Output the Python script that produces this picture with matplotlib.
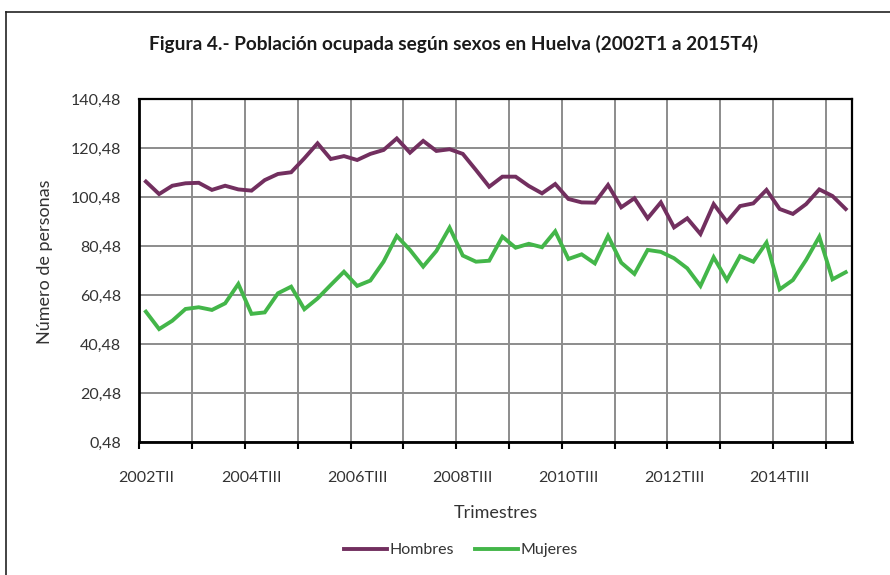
import matplotlib
matplotlib.use("Agg")
import matplotlib.pyplot as plt
from matplotlib.lines import Line2D

plt.rcParams['font.family'] = ['Lato', 'DejaVu Sans']

title = "Figura 4.- Población ocupada según sexos en Huelva (2002T1 a 2015T4)"
x_label_names = ["2002TII", "2004TIII", "2006TIII", "2008TIII", "2010TIII", "2012TIII", "2014TIII"]
y_ticks = [0.48, 20.48, 40.48, 60.48, 80.48, 100.48, 120.48, 140.48]
y_tick_labels = ["0,48", "20,48", "40,48", "60,48", "80,48", "100,48", "120,48", "140,48"]

hombres = [106.9, 101.8, 105.2, 106.2, 106.4, 103.5, 105.2, 103.7, 103.2, 107.5,
           110.0, 110.7, 116.4, 122.5, 116.1, 117.3, 115.7, 118.2, 119.8, 124.5,
           118.7, 123.5, 119.4, 120.1, 118.2, 111.6, 104.8, 108.9, 108.9, 105.1,
           102.1, 105.9, 99.8, 98.4, 98.3, 105.5, 96.4, 100.1, 91.9, 98.4,
           88.2, 91.9, 85.5, 97.7, 90.5, 96.9, 98.0, 103.5, 95.7, 93.7,
           97.7, 103.7, 101.0, 95.7]
mujeres = [53.8, 46.7, 50.1, 54.9, 55.6, 54.5, 57.2, 65.1, 52.9, 53.5,
           61.3, 64.0, 54.8, 59.2, 64.7, 70.1, 64.3, 66.5, 74.2, 84.7,
           79.0, 72.2, 78.6, 88.1, 76.7, 74.2, 74.6, 84.4, 79.9, 81.5,
           80.1, 86.6, 75.3, 77.2, 73.5, 84.7, 73.8, 69.2, 79.0, 78.2,
           75.6, 71.5, 64.3, 76.0, 66.7, 76.5, 74.2, 82.0, 62.9, 66.7,
           74.9, 84.4, 67.0, 69.9]

W, H = 890, 575
fig = plt.figure(figsize=(W/100, H/100), dpi=100)
ax = fig.add_axes([139.3/W, 1-442.3/H, 713/W, 343/H])

x = list(range(len(hombres)))
c_h = '#722F5F'
c_m = '#43B649'
ax.plot(x, hombres, color=c_h, lw=2.8, solid_joinstyle='miter', zorder=3)
ax.plot(x, mujeres, color=c_m, lw=2.8, solid_joinstyle='miter', zorder=3)

ax.set_xlim(-0.5, len(hombres) - 0.5)
ax.set_ylim(0.48, 140.48)

grid_pos = [i - 0.5 for i in range(0, len(hombres), 4)]
ax.set_xticks(grid_pos)
ax.set_xticklabels([])
ax.set_yticks(y_ticks)
ax.set_yticklabels(y_tick_labels, fontsize=11.5, color='#333333')
ax.tick_params(axis='y', length=0, pad=13)
ax.tick_params(axis='x', length=5, width=1.5, direction='out', color='black')

label_pos = list(range(0, len(hombres), 8))[:len(x_label_names)]
ax.set_xticks(label_pos, minor=True)
ax.set_xticklabels(x_label_names, minor=True, fontsize=11.5, color='#333333')
ax.tick_params(axis='x', which='minor', length=0, pad=21)

ax.grid(True, which='major', color='#8C8C8C', lw=1.4)
ax.set_axisbelow(True)
for s in ['left', 'bottom']:
    ax.spines[s].set_linewidth(2)
    ax.spines[s].set_color('black')
for s in ['top', 'right']:
    ax.spines[s].set_linewidth(1.6)
    ax.spines[s].set_color('black')

fig.text(453/W, 1-44/H, title, ha='center', va='center', fontsize=13.7, fontweight='bold', color='#1a1a1a')
fig.text(45/W, 1-262/H, "Número de personas", rotation=90, ha='center', va='center', fontsize=13, color='#333333')
fig.text(496/W, 1-513/H, "Trimestres", ha='center', va='center', fontsize=13, color='#333333')

handles = [Line2D([], [], color=c_h, lw=2.8), Line2D([], [], color=c_m, lw=2.8)]
fig.legend(handles, ["Hombres", "Mujeres"], loc='center', bbox_to_anchor=(461/W, 1-550/H),
           ncol=2, frameon=False, fontsize=11.5, handlelength=2.7, handletextpad=0.15,
           columnspacing=1.3, labelcolor='#333333')

# chart-area border (left and top visible)
fig.add_artist(Line2D([6/W, 6/W], [0, 1-12/H], color='#222222', lw=1.2, transform=fig.transFigure))
fig.add_artist(Line2D([6/W, 1], [1-12/H, 1-12/H], color='#222222', lw=1.2, transform=fig.transFigure))

fig.savefig("out.png", dpi=100)
